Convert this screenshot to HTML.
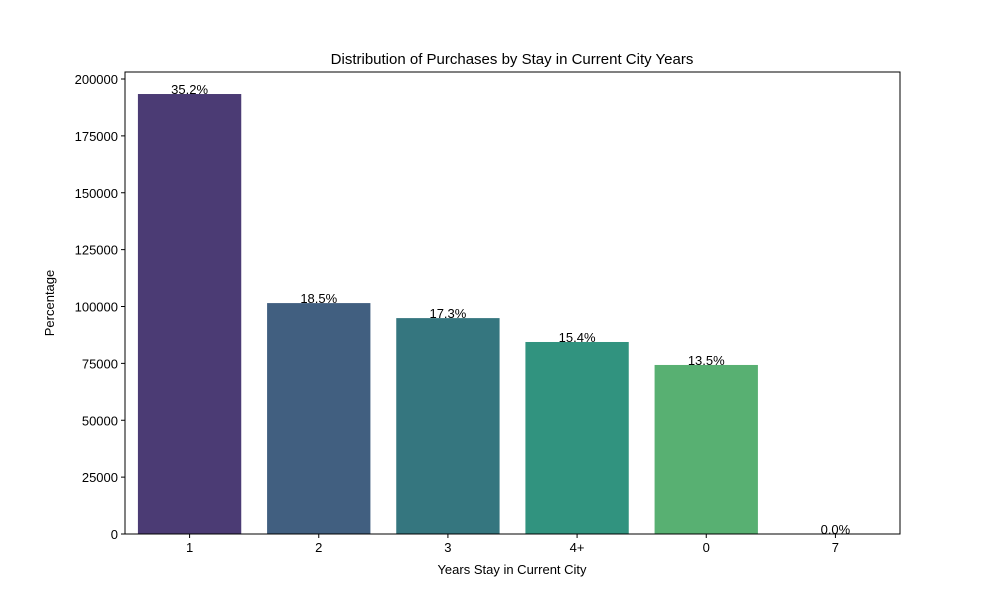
<!DOCTYPE html>
<html><head><meta charset="utf-8">
<style>body{margin:0;background:#fff;font-family:"Liberation Sans","DejaVu Sans",sans-serif}</style>
</head><body>
<svg id="chart" width="1000" height="600" xmlns="http://www.w3.org/2000/svg">
<rect x="0" y="0" width="1000" height="600" fill="#fff"/>
<text x="512" y="64" text-anchor="middle" font-size="15">Distribution of Purchases by Stay in Current City Years</text>
<g id="bars"></g><g id="yticks"></g><g id="xticks"></g><g id="labels"></g>
<rect x="125" y="72" width="775" height="462" fill="none" stroke="#000" stroke-width="1"/>
<text x="512" y="574" text-anchor="middle" font-size="13">Years Stay in Current City</text>
<text transform="translate(54,303) rotate(-90)" text-anchor="middle" font-size="13">Percentage</text>
</svg>
<script>
const categories=["1","2","3","4+","0","7"];
const values=[193400,101500,94900,84400,74300,0];
const pctLabels=["35.2%","18.5%","17.3%","15.4%","13.5%","0.0%"];
const colors=["#4b3b74","#415f80","#35767f","#31937f","#58b072","#a0d05a"];
const yTicks=[0,25000,50000,75000,100000,125000,150000,175000,200000];
const NS="http://www.w3.org/2000/svg";
const L=125,R=900,T=72,B=534,YMAX=203077;
const y=v=>B-(B-T)*v/YMAX;
const band=(R-L)/categories.length;
const xc=i=>L+band*(i+0.5);
function mk(tag,attrs,parent){const e=document.createElementNS(NS,tag);for(const k in attrs)e.setAttribute(k,attrs[k]);document.getElementById(parent).appendChild(e);return e;}
categories.forEach((c,i)=>{
 const w=band*0.8;
 const r=mk('rect',{x:xc(i)-w/2,y:y(values[i]),width:w,height:B-y(values[i]),fill:colors[i]},'bars');
 
 
 const t=mk('line',{x1:xc(i),x2:xc(i),y1:B,y2:B+4,stroke:'#000'},'xticks');
 
 
 const tl=mk('text',{x:xc(i),y:B+18,'text-anchor':'middle','font-size':13},'xticks');
 tl.textContent=c;
 
 
 const vl=mk('text',{x:xc(i),y:y(values[i]),'text-anchor':'middle','font-size':13},'labels');
 vl.textContent=pctLabels[i];
 
 
});
yTicks.forEach(v=>{
 const t=mk('line',{x1:L-4,x2:L,y1:y(v),y2:y(v),stroke:'#000'},'yticks');
 
 
 const tl=mk('text',{x:L-7,y:y(v)+5,'text-anchor':'end','font-size':13},'yticks');
 tl.textContent=v;
 
 
});
</script>
</body></html>
